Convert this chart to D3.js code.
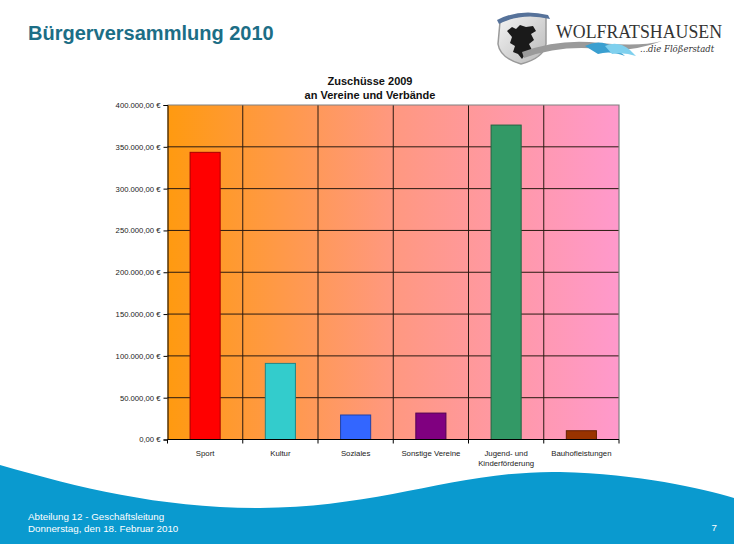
<!DOCTYPE html>
<html><head><meta charset="utf-8">
<script src="https://cdn.jsdelivr.net/npm/d3@7"></script>
<style>body{margin:0;background:#fff}svg{display:block}</style>
</head><body>
<script>
const categories = ["Sport","Kultur","Soziales","Sonstige Vereine","Jugend- und\nKinderförderung","Bauhofleistungen"];
const values = [343400, 91000, 29300, 31600, 376000, 10500];
const barColors = ["#FF0000","#33CCCC","#3366FF","#800080","#339966","#993300"];
const yTicks = [0,50000,100000,150000,200000,250000,300000,350000,400000];
const titleLines = ["Zuschüsse 2009","an Vereine und Verbände"];
const footerLines = ["Abteilung 12 - Geschäftsleitung","Donnerstag, den 18. Februar 2010"];

const W=734,H=544;
const svg=d3.select("body").append("svg").attr("width",W).attr("height",H);
const F="'Liberation Sans', Arial, sans-serif";
const defs=svg.append("defs");
const g1=defs.append("linearGradient").attr("id","bg").attr("x1","0").attr("x2","1").attr("y1","0").attr("y2","0");
g1.append("stop").attr("offset","0").attr("stop-color","#FF9A10");
g1.append("stop").attr("offset","0.5").attr("stop-color","#FF9880");
g1.append("stop").attr("offset","1").attr("stop-color","#FF99CC");
const g2=defs.append("linearGradient").attr("id","shield").attr("x1","0").attr("x2","1").attr("y1","0").attr("y2","1");
g2.append("stop").attr("offset","0").attr("stop-color","#f4f4f4");
g2.append("stop").attr("offset","1").attr("stop-color","#b8b8b8");

// header
svg.append("text").attr("x",28).attr("y",40).attr("font-family",F).attr("font-weight","bold")
  .attr("font-size",20).attr("fill","#1C6E86").text("Bürgerversammlung 2010");

// logo
const logo=svg.append("g");
logo.append("path").attr("d","M500,22 Q522,12 546,17 L546,44 Q544,58 521,64 Q500,58 498,44 Z")
  .attr("fill","url(#shield)").attr("stroke","#9a9a9a").attr("stroke-width",1.5);
logo.append("path").attr("d","M497,20 Q520,8 548,15 L550,19 Q522,12 499,24 Z").attr("fill","#56729a");
logo.append("path").attr("d","M507,31 L512,27 L516,29 L520,25 L526,27 L533,26 L536,31 L531,34 L534,40 L529,44 L532,50 L526,53 L522,59 L518,54 L513,52 L515,46 L510,43 L512,37 Z").attr("fill","#1a1a1a");
logo.append("path").attr("d","M522,52 Q560,38 600,43 Q640,47 662,41 Q630,53 600,49 Q560,45 524,58 Z").attr("fill","#9a9a9a");
logo.append("path").attr("d","M585,46 Q600,38 615,48 L625,56 Q610,50 598,54 Z").attr("fill","#3a9fd0");
logo.append("path").attr("d","M605,46 Q618,40 630,50 L636,56 Q624,52 612,54 Z").attr("fill","#7fd0ee");
logo.append("text").attr("x",556).attr("y",38).attr("font-family","'Liberation Serif', serif")
  .attr("font-size",19).attr("fill","#333").attr("textLength",166).attr("lengthAdjust","spacingAndGlyphs").text("WOLFRATSHAUSEN");
logo.append("text").attr("x",640).attr("y",52).attr("font-family","'DejaVu Serif', serif").attr("font-style","italic")
  .attr("font-size",8.5).attr("fill","#333").text("...die Flößerstadt");

// footer wave
svg.append("path").attr("d","M0,465 C80,488 160,508 260,508 C380,508 460,470 560,472 C640,474 700,488 734,498 L734,544 L0,544 Z")
  .attr("fill","#0A9ACF");
const ft=svg.append("g").attr("font-family",F).attr("font-size",9.8).attr("fill","#fff");
footerLines.forEach((t,i)=>ft.append("text").attr("x",28).attr("y",520+i*11.5).text(t));
ft.append("text").attr("x",717).attr("y",531).attr("text-anchor","end").text("7");

// chart
const m={l:167.5,r:619,t:105,b:439.5};
const x=d3.scaleBand().domain(categories).range([m.l,m.r]).paddingInner(0).paddingOuter(0);
const y=d3.scaleLinear().domain([0,400000]).range([m.b,m.t]);
const loc=d3.formatLocale({decimal:",",thousands:".",grouping:[3],currency:[""," €"]});
const fmt=v=>loc.format(",.2f")(v)+" €";

svg.append("rect").attr("x",m.l).attr("y",m.t).attr("width",m.r-m.l).attr("height",m.b-m.t).attr("fill","url(#bg)");
svg.append("g").selectAll("line").data(yTicks.filter(d=>d>0&&d<400000)).join("line")
  .attr("x1",m.l).attr("x2",m.r).attr("y1",d=>y(d)).attr("y2",d=>y(d)).attr("stroke","#2a1a10").attr("stroke-width",1);
svg.append("g").selectAll("line").data(categories.slice(1)).join("line")
  .attr("x1",d=>x(d)).attr("x2",d=>x(d)).attr("y1",m.t).attr("y2",m.b).attr("stroke","#2a1a10").attr("stroke-width",1);
svg.append("path").attr("d",`M${m.l},${m.t}H${m.r}V${m.b}`).attr("fill","none").attr("stroke","#808080").attr("stroke-width",1.2);

// bars
const bw=x.bandwidth()*0.4;
svg.append("g").selectAll("rect").data(values).join("rect")
  .attr("x",(d,i)=>x(categories[i])+(x.bandwidth()-bw)/2).attr("width",bw)
  .attr("y",d=>y(d)).attr("height",d=>y(0)-y(d))
  .attr("fill",(d,i)=>barColors[i]).attr("stroke",(d,i)=>d3.color(barColors[i]).darker(1.2)).attr("stroke-width",1);

// y axis
const ya=svg.append("g").attr("transform",`translate(${m.l},0)`)
  .call(d3.axisLeft(y).tickValues(yTicks).tickFormat(fmt).tickSize(4).tickPadding(3));
ya.select(".domain").attr("stroke","#000");
ya.selectAll(".tick line").attr("stroke","#000");
ya.selectAll("text").attr("font-family",F).attr("font-size",7.7).attr("fill","#222");

// x axis
const xa=svg.append("g").attr("transform",`translate(0,${m.b})`);
xa.append("line").attr("x1",m.l).attr("x2",m.r).attr("stroke","#000");
xa.selectAll("line.t").data(d3.range(categories.length+1)).join("line").attr("class","t")
  .attr("x1",i=>m.l+i*x.bandwidth()).attr("x2",i=>m.l+i*x.bandwidth()).attr("y1",0).attr("y2",4).attr("stroke","#000");
categories.forEach(c=>{
  const t=xa.append("text").attr("x",x(c)+x.bandwidth()/2).attr("y",16).attr("text-anchor","middle")
    .attr("font-family",F).attr("font-size",7.8).attr("fill","#222");
  c.split("\n").forEach((s,i)=>t.append("tspan").attr("x",x(c)+x.bandwidth()/2).attr("dy",i?10.5:0).text(s));
});

// title
const tt=svg.append("text").attr("text-anchor","middle").attr("font-family",F).attr("font-weight","bold").attr("font-size",11).attr("fill","#111");
titleLines.forEach((s,i)=>tt.append("tspan").attr("x",370).attr("y",85+i*14).text(s));
</script>
</body></html>
